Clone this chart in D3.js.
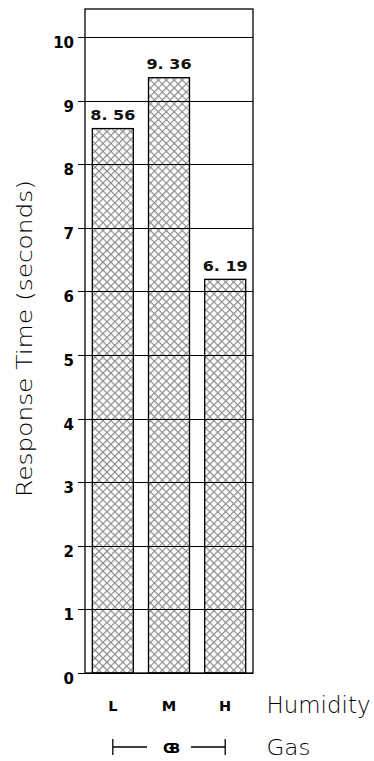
<!DOCTYPE html>
<html><head><meta charset="utf-8">
<script src="https://cdn.jsdelivr.net/npm/d3@7"></script>
<style>body{margin:0;background:#fff}</style>
</head><body>
<svg id="c" width="374" height="761"></svg>
<script>
const categories = ["L","M","H"];
const values = [8.56, 9.36, 6.19];
const valueLabels = ["8. 56","9. 36","6. 19"];
const yTicks = [0,1,2,3,4,5,6,7,8,9,10];
const groupLabel = "GB";

(function(){
const svg = d3.select("#c");
const pL = 85, pR = 253, pT = 9, pB = 673;
const y = d3.scaleLinear().domain([0,10]).range([673,37]);
const x = d3.scaleBand().domain(categories).range([pL, pR]).paddingInner(0.27).paddingOuter(0.13);
const BOLD = "DejaVu Sans, sans-serif";

const defs = svg.append("defs");
const s = 5.6;
const pat = defs.append("pattern").attr("id","hatch").attr("patternUnits","userSpaceOnUse")
  .attr("width",s).attr("height",s).attr("patternTransform","rotate(45)");
pat.append("rect").attr("width",s).attr("height",s).attr("fill","#fff");
pat.append("path").attr("d",`M0,0H${s}M0,0V${s}`)
  .attr("stroke","#8c8c8c").attr("stroke-width",2.4);

svg.selectAll("rect.bar").data(values).join("rect").attr("class","bar")
  .attr("x",(d,i)=>x(categories[i])).attr("width",x.bandwidth())
  .attr("y",d=>y(d)).attr("height",d=>y(0)-y(d))
  .attr("fill","url(#hatch)").attr("stroke","#000").attr("stroke-width",1.3);

svg.selectAll("line.grid").data(yTicks).join("line").attr("class","grid")
  .attr("x1",78).attr("x2",pR)
  .attr("y1",d=>Math.round(y(d))+0.5).attr("y2",d=>Math.round(y(d))+0.5)
  .attr("stroke","#000").attr("stroke-width",1.2);

svg.append("rect").attr("x",pL).attr("y",pT).attr("width",pR-pL).attr("height",pB-pT)
  .attr("fill","none").attr("stroke","#000").attr("stroke-width",1.3);

svg.selectAll("text.yt").data(yTicks).join("text").attr("class","yt")
  .attr("x",74).attr("y",d=>y(d)+11).attr("text-anchor","end")
  .attr("font-family",BOLD).attr("font-weight","bold")
  .attr("font-size",15).text(d=>d);

svg.selectAll("text.vl").data(values).join("text").attr("class","vl")
  .attr("x",(d,i)=>x(categories[i])+x.bandwidth()/2).attr("y",d=>y(d)-8.5)
  .attr("text-anchor","middle").attr("font-family",BOLD)
  .attr("font-size",14.5).attr("font-weight","bold").attr("fill","#111")
  .attr("textLength",45).attr("lengthAdjust","spacingAndGlyphs")
  .text((d,i)=>valueLabels[i]);

svg.append("text").attr("transform","translate(31.5,338.5) rotate(-90)")
  .attr("text-anchor","middle").attr("font-family","DejaVu Sans, sans-serif")
  .attr("font-size",22).attr("font-weight",300).attr("fill","#000")
  .attr("textLength",317).attr("lengthAdjust","spacingAndGlyphs")
  .text("Response Time (seconds)");

svg.selectAll("text.cat").data(categories).join("text").attr("class","cat")
  .attr("x",d=>x(d)+x.bandwidth()/2).attr("y",711).attr("text-anchor","middle")
  .attr("font-family",BOLD).attr("font-weight","bold")
  .attr("font-size",14.5).text(d=>d);
svg.append("text").attr("x",266.5).attr("y",712.5).attr("font-family","DejaVu Sans, sans-serif")
  .attr("font-size",23).attr("font-weight",300).attr("fill","#000")
  .attr("textLength",104).attr("lengthAdjust","spacingAndGlyphs").text("Humidity");

const gx1 = x("L")+x.bandwidth()/2, gx2 = x("H")+x.bandwidth()/2, gy = 747;
const gm = (gx1+gx2)/2;
const br = svg.append("g").attr("stroke","#000").attr("stroke-width",1.3);
br.append("line").attr("x1",gx1).attr("x2",gm-22).attr("y1",gy).attr("y2",gy);
br.append("line").attr("x1",gm+22).attr("x2",gx2).attr("y1",gy).attr("y2",gy);
br.append("line").attr("x1",gx1).attr("x2",gx1).attr("y1",gy-8).attr("y2",gy+8);
br.append("line").attr("x1",gx2).attr("x2",gx2).attr("y1",gy-8).attr("y2",gy+8);
svg.append("text").attr("x",gm).attr("y",gy+6).attr("text-anchor","middle")
  .attr("font-family",BOLD).attr("font-weight","bold")
  .attr("font-size",14).attr("letter-spacing",-5).text(groupLabel);
svg.append("text").attr("x",266.5).attr("y",755).attr("font-family","DejaVu Sans, sans-serif")
  .attr("font-size",21).attr("font-weight",300).attr("fill","#000")
  .attr("textLength",44).attr("lengthAdjust","spacingAndGlyphs").text("Gas");
})();
</script>
</body></html>
